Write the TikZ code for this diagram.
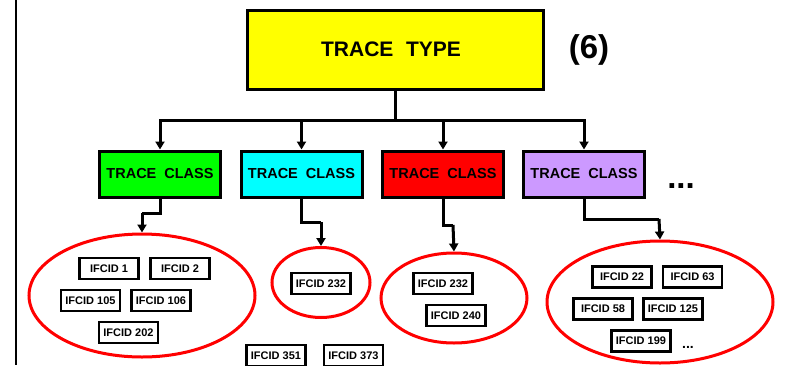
\documentclass[tikz,border=0pt]{standalone}
\usepackage{fontspec}
\setmainfont{Liberation Sans}
\usetikzlibrary{arrows.meta,shapes.geometric}
\definecolor{typeyellow}{HTML}{FFFF00}
\definecolor{clsgreen}{HTML}{00FF00}
\definecolor{clscyan}{HTML}{00FFFF}
\definecolor{clsred}{HTML}{FF0000}
\definecolor{clspurple}{HTML}{CC99FF}
\definecolor{setred}{HTML}{FF0000}
\begin{document}
\begin{tikzpicture}[x=1pt,y=-1pt,
  typebox/.style={draw=black,line width=3pt,fill=typeyellow,minimum width=296pt,minimum height=79pt,inner sep=0pt,
    font=\fontsize{21}{24}\selectfont\bfseries},
  classbox/.style={draw=black,line width=3pt,minimum width=121pt,minimum height=46pt,inner sep=0pt,
    font=\fontsize{14.5}{17}\selectfont\bfseries},
  idbox/.style={draw=black,line width=2.8pt,fill=white,minimum width=59pt,minimum height=21pt,inner sep=0pt,
    font=\fontsize{11}{13}\selectfont\bfseries},
  idset/.style={draw=setred,line width=3pt,ellipse,inner sep=0pt},
  link/.style={draw=black,line width=3pt},
  feed/.style={link,-{Triangle[length=8pt,width=9pt]}},
  big/.style={font=\fontsize{33}{36}\selectfont\bfseries,inner sep=0pt}]
\useasboundingbox (0,0) rectangle (785,365);

% margin rule
\draw[line width=1.5pt] (16,0) -- (16,365);

% trace type
\node[typebox] (type) at (395,49.5) {\hspace*{-8pt}TRACE\hspace{0.6em}TYPE};
\node[big] (six) at (589,50) {(6)};

% trace classes
\node[classbox,fill=clsgreen]  (c1) at (160,174) {TRACE\hspace{0.55em}CLASS};
\node[classbox,fill=clscyan]   (c2) at (301.5,174) {TRACE\hspace{0.55em}CLASS};
\node[classbox,fill=clsred]    (c3) at (443,174) {TRACE\hspace{0.55em}CLASS};
\node[classbox,fill=clspurple] (c4) at (584,174) {TRACE\hspace{0.55em}CLASS};
\node[big,anchor=base] (more) at (681,188) {...};

% distribution bus
\coordinate (bus) at (395,120);
\draw[link] (type.south) -- (bus);
\foreach \c in {c1,c2,c3,c4} \draw[feed] (bus) -| (\c.north);

% IFCID sets
\node[idset,minimum width=226pt,minimum height=123pt] (e1) at (142,295.5) {};
\node[idset,minimum width=98pt,minimum height=70pt]   (e2) at (321,282.5) {};
\node[idset,minimum width=146pt,minimum height=90pt]  (e3) at (454,298) {};
\node[idset,minimum width=226pt,minimum height=122pt] (e4) at (660,302) {};

% class to set connectors
\coordinate (k1) at (142,213);
\coordinate (k2) at (321,222);
\coordinate (k3) at (453,225);
\coordinate (k4) at (659,219);
\draw[link] (c1.south) |- (k1);
\draw[feed] (k1) -- (e1.north);
\draw[link] (c2.south) |- (k2);
\draw[feed] (k2) -- (e2.north);
\draw[link] (c3.south) |- (k3);
\draw[feed] (k3) -- (e3.north);
\draw[link] (c4.south) |- (k4);
\draw[feed] (k4) -- (e4.north);

% IFCIDs
\node[idbox] (i1)   at (109,268.5) {IFCID 1};
\node[idbox] (i2)   at (180,268.5) {IFCID 2};
\node[idbox] (i105) at (90.5,300.5) {IFCID 105};
\node[idbox] (i106) at (161,300.5) {IFCID 106};
\node[idbox] (i202) at (128.5,332.5) {IFCID 202};

\node[idbox] (j232) at (321,283.5) {IFCID 232};
\node[idbox] (i351) at (276,355.5) {IFCID 351};
\node[idbox] (i373) at (353.5,355.5) {IFCID 373};

\node[idbox] (k232) at (443,283.5) {IFCID 232};
\node[idbox] (i240) at (456,315.5) {IFCID 240};

\node[idbox] (i22)  at (622,277) {IFCID 22};
\node[idbox] (i63)  at (692.5,277) {IFCID 63};
\node[idbox] (i58)  at (603,309) {IFCID 58};
\node[idbox] (i125) at (673,309) {IFCID 125};
\node[idbox] (i199) at (641,341) {IFCID 199};
\node[font=\fontsize{14}{16}\selectfont\bfseries,inner sep=0pt,anchor=base] (etc) at (688,348) {...};
\end{tikzpicture}
\end{document}
